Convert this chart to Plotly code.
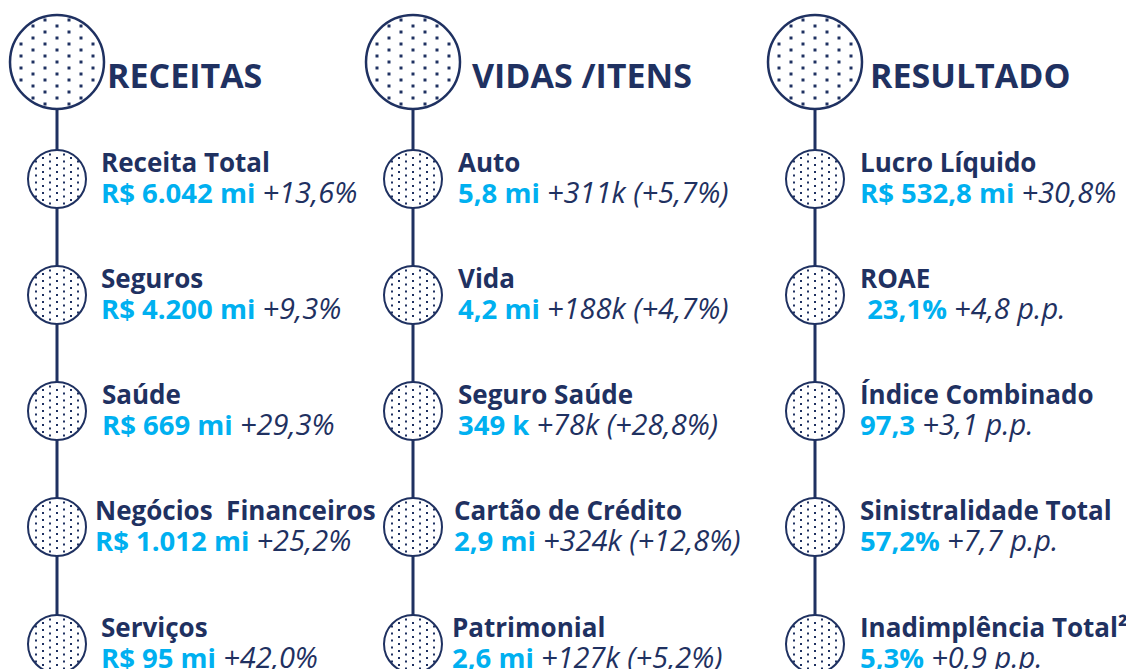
import plotly.graph_objects as go

# ---------------- data ----------------
section_titles = ["RECEITAS", "VIDAS /ITENS", "RESULTADO"]

receitas_labels = ["Receita Total", "Seguros", "Saúde", "Negócios  Financeiros", "Serviços"]
receitas_values = ["R$ 6.042 mi", "R$ 4.200 mi", "R$ 669 mi", "R$ 1.012 mi", "R$ 95 mi"]
receitas_changes = ["+13,6%", "+9,3%", "+29,3%", "+25,2%", "+42,0%"]

vidas_labels = ["Auto", "Vida", "Seguro Saúde", "Cartão de Crédito", "Patrimonial"]
vidas_values = ["5,8 mi", "4,2 mi", "349 k", "2,9 mi", "2,6 mi"]
vidas_changes = ["+311k (+5,7%)", "+188k (+4,7%)", "+78k (+28,8%)", "+324k (+12,8%)", "+127k (+5,2%)"]

resultado_labels = ["Lucro Líquido", "ROAE", "Índice Combinado", "Sinistralidade Total", "Inadimplência Total²"]
resultado_values = ["R$ 532,8 mi", " 23,1%", "97,3", "57,2%", "5,3%"]
resultado_changes = ["+30,8%", "+4,8 p.p.", "+3,1 p.p.", "+7,7 p.p.", "+0,9 p.p."]

# ---------------- layout / style ----------------
W, H = 1134, 669
OFF = 8                      # page body margin
NAVY = "#1F3161"
BLUE = "#00B0F0"
FONT = "Open Sans"

col_cx = [57, 413, 815]          # column axis x
col_text_x = [99, 456, 858]      # text left edge (annotation box)
text_nudge = [[0, 0, 1, -6, 0], [0, 0, 0, -4, -6], [0, 0, 0, 0, 0]]
title_x = [105, 470, 868]
big_cy, big_r = 62, 47
row_cy = [179, 295, 411, 527, 644]
small_r = 29

columns = [
    (receitas_labels, receitas_values, receitas_changes),
    (vidas_labels, vidas_values, vidas_changes),
    (resultado_labels, resultado_values, resultado_changes),
]

fig = go.Figure()
shapes = []
annotations = []


def dots(cx, cy, r, pitch):
    xs, ys = [], []
    n = int(r / pitch) + 2
    for i in range(-n, n + 1):
        for j in range(-n - 1, n + 2):
            x = cx + i * pitch
            y = cy + j * pitch + (pitch / 2 if i % 2 else 0)
            if (x - cx) ** 2 + (y - cy) ** 2 <= (r - 1.5) ** 2:
                xs.append(x)
                ys.append(y)
    return xs, ys


all_dx, all_dy, all_sx, all_sy = [], [], [], []
for c, (labels, values, changes) in enumerate(columns):
    cx = col_cx[c]
    shapes.append(dict(type="line", x0=cx, x1=cx, y0=big_cy + big_r, y1=H + 5,
                       line=dict(color=NAVY, width=3), layer="below"))
    shapes.append(dict(type="circle", x0=cx - big_r, x1=cx + big_r,
                       y0=big_cy - big_r, y1=big_cy + big_r,
                       line=dict(color=NAVY, width=2.5), fillcolor="white", layer="below"))
    dx, dy = dots(cx, big_cy, big_r, 12)
    all_dx += dx
    all_dy += dy
    annotations.append(dict(x=title_x[c], y=75, xanchor="left", yanchor="middle",
                            text="<b>%s</b>" % section_titles[c], showarrow=False,
                            font=dict(family=FONT, size=34, color=NAVY)))
    for k, cy in enumerate(row_cy):
        shapes.append(dict(type="circle", x0=cx - small_r, x1=cx + small_r,
                           y0=cy - small_r, y1=cy + small_r,
                           line=dict(color=NAVY, width=2), fillcolor="white", layer="below"))
        sx, sy = dots(cx, cy, small_r, 7)
        all_sx += sx
        all_sy += sy
        tx = col_text_x[c] + text_nudge[c][k]
        annotations.append(dict(x=tx, y=cy - 17, xanchor="left", yanchor="middle",
                                text="<b>%s</b>" % labels[k].replace("  ", "&nbsp; "),
                                showarrow=False,
                                font=dict(family=FONT, size=26, color=NAVY)))
        val = values[k]
        if val.startswith(" "):
            val = "&nbsp;" + val[1:]
        annotations.append(dict(x=tx, y=cy + 12, xanchor="left", yanchor="middle",
                                text="<b><span style='color:%s'>%s</span></b> "
                                     "<i><span style='font-size:29px'>%s</span></i>"
                                     % (BLUE, val, changes[k]),
                                showarrow=False,
                                font=dict(family=FONT, size=27.5, color=NAVY)))

fig.add_trace(go.Scatter(x=all_dx, y=all_dy, mode="markers", hoverinfo="skip",
                         marker=dict(size=3, color=NAVY, symbol="square"), showlegend=False))
fig.add_trace(go.Scatter(x=all_sx, y=all_sy, mode="markers", hoverinfo="skip",
                         marker=dict(size=2, color=NAVY, symbol="square"), showlegend=False))

fig.update_layout(
    width=W - OFF, height=H - OFF,
    margin=dict(l=0, r=0, t=0, b=0),
    paper_bgcolor="white", plot_bgcolor="white",
    xaxis=dict(range=[OFF, W], visible=False, fixedrange=True),
    yaxis=dict(range=[H, OFF], visible=False, fixedrange=True),
    shapes=shapes, annotations=annotations,
    showlegend=False,
)

fig.write_html("out.html")
